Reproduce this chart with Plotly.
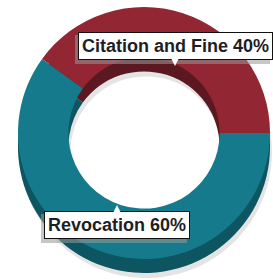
import plotly.graph_objects as go

categories = ["Citation and Fine", "Revocation"]
values = [40, 60]
label_texts = ["Citation and Fine 40%", "Revocation 60%"]

top_colors = ["#922633", "#157B8C"]
side_colors = ["#5C1820", "#0D5561"]
shadow_colors = ["#e4e4e4", "#e4e4e4"]

W, H = 273, 279
R = 126
cx, cy = 144, 133
depth = 14

def dom(cx_, cy_, r):
    yb = H - cy_
    x0, x1 = (cx_ - r) / W, (cx_ + r) / W
    y0, y1 = (yb - r) / H, (yb + r) / H
    clip = lambda v: min(1.0, max(0.0, v))
    return dict(x=[clip(x0), clip(x1)], y=[clip(y0), clip(y1)])

def ring(colors, dx, dy):
    return go.Pie(
        labels=categories, values=values, hole=0.6, sort=False,
        direction="clockwise", rotation=-54,
        marker=dict(colors=colors, line=dict(width=0)),
        textinfo="none", hoverinfo="skip", showlegend=False,
        domain=dom(cx + dx, cy + dy, R),
    )

fig = go.Figure()
fig.add_trace(ring(shadow_colors, 2, depth + 5))   # soft drop shadow
fig.add_trace(ring(side_colors, 0, depth))         # extrusion side
fig.add_trace(ring(top_colors, 0, 0))              # top face

# label boxes: (center x, center y, pointer tip y, box text width) in pixels
box_pos = [(175, 46, 66, 187), (117, 225, 205, 138)]
for t, (bx, by, tipy, bw) in zip(label_texts, box_pos):
    # box shadow (empty box)
    fig.add_annotation(
        x=(bx - 3) / W, y=1 - (by + 3) / H, xref="paper", yref="paper",
        text=" ", showarrow=False, width=bw, height=21,
        bgcolor="#9a9a9a", bordercolor="#9a9a9a", borderwidth=1, borderpad=3,
        font=dict(size=18), xanchor="center", yanchor="middle", opacity=0.55,
    )
    # box with pointer
    fig.add_annotation(
        x=bx / W, y=1 - tipy / H, xref="paper", yref="paper",
        ax=0, ay=by - tipy, axref="pixel", ayref="pixel",
        text="<b>" + t + "</b>", showarrow=True,
        arrowhead=2, arrowsize=1.3, arrowwidth=2, arrowcolor="white", standoff=0,
        bgcolor="white", bordercolor="#111111", borderwidth=1, borderpad=3,
        font=dict(family="Liberation Sans, Arial, sans-serif", size=18, color="#1e1e24"),
        xanchor="center", yanchor="middle",
    )

fig.update_layout(
    width=W, height=H, margin=dict(l=0, r=0, t=0, b=0),
    paper_bgcolor="white", plot_bgcolor="white", showlegend=False,
)
fig.write_html(
    "out.html",
    config={"displayModeBar": False},
    post_script="document.body.style.margin='0';document.body.style.overflow='hidden';",
)
